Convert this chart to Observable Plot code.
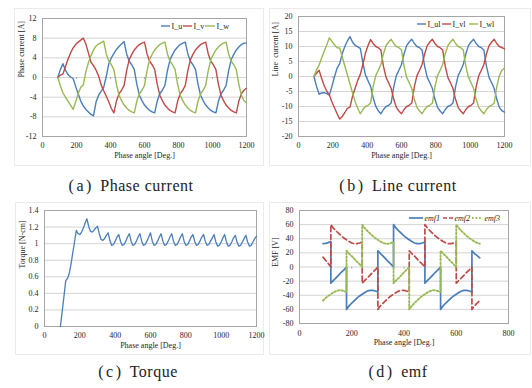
<!DOCTYPE html>
<html><head><meta charset="utf-8">
<script src="https://cdn.jsdelivr.net/npm/d3@7"></script>
<script src="https://cdn.jsdelivr.net/npm/@observablehq/plot@0.6"></script>
<style>
body{margin:0;background:#fff;}
#root{position:relative;width:532px;height:388px;overflow:hidden;font-family:"Liberation Serif","Times New Roman",serif;}
.panel{position:absolute;}
.box{position:absolute;border:1px solid #ebebeb;box-sizing:border-box;}
.cap{position:absolute;font-size:16px;color:#222;white-space:nowrap;transform:translate(-50%,-50%);letter-spacing:0.5px;}
.cap .p{letter-spacing:2.5px;margin-right:2px;}
#leg{position:absolute;left:0;top:0;pointer-events:none;}
</style></head><body><div id="root"></div>
<script>
// ---------- data ----------
const phaseAngle = [90,105,120,135,150,165,180,195,210,225,240,255,270,285,300,315,330,345,360,375,390,405,420,435,450,465,480,495,510,525,540,555,570,585,600,615,630,645,660,675,690,705,720,735,750,765,780,795,810,825,840,855,870,885,900,915,930,945,960,975,990,1005,1020,1035,1050,1065,1080,1095,1110,1125,1140,1155,1170,1185,1200];

const I_u = [0,1.6,2.8,1.5,0.6,0.1,-0.2,-1.8,-3.3,-4.8,-5.8,-6.5,-7.0,-7.5,-7.8,
  -5.0,-3.6,-2.8,-2.0,0.2,2.8,4.0,4.9,5.7,6.3,6.8,7.3,
  4.8,3.3,2.6,1.6,-1.4,-3.6,-4.7,-5.6,-6.2,-6.7,-7.0,-7.2,-4.8,-3.3,-2.6,-1.6,1.4,3.6,4.7,5.6,6.2,6.7,7.0,7.2,
  4.8,3.3,2.6,1.6,-1.4,-3.6,-4.7,-5.6,-6.2,-6.7,-7.0,-7.2,-4.8,-3.3,-2.6,-1.6,1.4,3.6,4.7,5.6,6.2,6.7,7.0,7.0];
const I_v = [0,0.5,0.7,2.2,3.7,5.0,6.0,6.7,7.2,7.6,8.0,6.8,5.0,3.1,2.4,
  1.5,0.3,-1.5,-2.7,-3.8,-5.0,-6.3,-7.2,
  -4.8,-3.3,-2.6,-1.6,1.4,3.6,4.7,5.6,6.2,6.7,7.0,7.2,
  4.8,3.3,2.6,1.6,-1.4,-3.6,-4.7,-5.6,-6.2,-6.7,-7.0,-7.2,-4.8,-3.3,-2.6,-1.6,1.4,3.6,4.7,5.6,6.2,6.7,7.0,7.2,
  4.8,3.3,2.6,1.6,-1.4,-3.6,-4.7,-5.6,-6.2,-6.7,-7.0,-7.2,-4.8,-3.3,-2.6,-2.2];
const I_w = [0,-1.7,-3.1,-4.0,-4.8,-5.6,-6.5,-5.0,-3.3,-2.0,-1.5,1.2,3.0,4.4,5.6,6.4,6.8,7.1,7.4,
  4.8,3.3,2.6,1.6,-1.4,-3.6,-4.7,-5.6,-6.2,-6.7,-7.0,-7.2,-4.8,-3.3,-2.6,-1.6,1.4,3.6,4.7,5.6,6.2,6.7,7.0,7.2,
  4.8,3.3,2.6,1.6,-1.4,-3.6,-4.7,-5.6,-6.2,-6.7,-7.0,-7.2,-4.8,-3.3,-2.6,-1.6,1.4,3.6,4.7,5.6,6.2,6.7,7.0,7.2,
  4.8,3.3,2.6,1.6,-1.4,-3.6,-4.7,-5.2];

const I_ul = [0,-3.3,-5.9,-5.5,-5.4,-5.7,-6.2,-3.2,0,2.8,4.3,7.7,10.0,11.9,13.3,
  11.4,10.4,9.9,9.4,4.6,0.5,-1.4,-3.3,-7.1,-9.9,-11.5,-12.4,
  -11.0,-10.0,-9.6,-8.8,-3.4,0.3,2.1,4.0,7.6,10.3,11.5,12.4,
  11.0,10.0,9.6,8.8,3.4,-0.3,-2.1,-4.0,-7.6,-10.3,-11.5,-12.4,
  -11.0,-10.0,-9.6,-8.8,-3.4,0.3,2.1,4.0,7.6,10.3,11.5,12.4,
  11.0,10.0,9.6,8.8,3.4,-0.3,-2.1,-4.0,-7.6,-10.3,-11.4,-11.9];
const I_vl = [0,1.1,2.1,-0.7,-3.1,-4.9,-6.2,-8.5,-10.5,-12.4,-14.2,-13.3,-12.0,-10.6,-10.2,
  -6.5,-3.9,-1.3,0.7,4.0,7.8,10.3,12.3,
  11.0,10.0,9.6,8.8,3.4,-0.3,-2.1,-4.0,-7.6,-10.3,-11.5,-12.4,
  -11.0,-10.0,-9.6,-8.8,-3.4,0.3,2.1,4.0,7.6,10.3,11.5,12.4,
  11.0,10.0,9.6,8.8,3.4,-0.3,-2.1,-4.0,-7.6,-10.3,-11.5,-12.4,
  -11.0,-10.0,-9.6,-8.8,-3.4,0.3,2.1,4.0,7.6,10.3,11.5,12.4,
  11.0,10.0,9.6,9.2];
const I_wl = [0,2.2,3.8,6.2,8.5,10.6,12.9,11.7,10.5,9.6,9.5,
  6.5,3.5,0.5,-2.5,-5.5,-8.3,-10.6,-12.4,
  -11.0,-10.0,-9.6,-8.8,-3.4,0.3,2.1,4.0,7.6,10.3,11.5,12.4,
  11.0,10.0,9.6,8.8,3.4,-0.3,-2.1,-4.0,-7.6,-10.3,-11.5,-12.4,
  -11.0,-10.0,-9.6,-8.8,-3.4,0.3,2.1,4.0,7.6,10.3,11.5,12.4,
  11.0,10.0,9.6,8.8,3.4,-0.3,-2.1,-4.0,-7.6,-10.3,-11.5,-12.4,
  -11.0,-10.0,-9.6,-8.8,-3.4,0.3,2.1,2.8];

const torqueAngle = [90,100,110,120,130,140,150,160,170,180,190,200,210,220,230,240,250,260,270,280,290,300,310,320,330,340,350,360,370,380,390,400,410,420,430,440,450,460,470,480,490,500,510,520,530,540,550,560,570,580,590,600,610,620,630,640,650,660,670,680,690,700,710,720,730,740,750,760,770,780,790,800,810,820,830,840,850,860,870,880,890,900,910,920,930,940,950,960,970,980,990,1000,1010,1020,1030,1040,1050,1060,1070,1080,1090,1100,1110,1120,1130,1140,1150,1160,1170,1180,1190,1200];
const torque = [0.00,0.18,0.36,0.55,0.58,0.64,0.75,0.89,1.02,1.16,
  1.12,1.11,1.14,1.19,1.25,1.30,1.21,1.15,1.14,1.16,
  1.19,1.21,1.12,1.05,1.04,1.06,1.10,1.13,1.04,0.98,
  0.99,1.03,1.08,1.11,
  1.03,0.98,0.99,1.03,1.08,1.12,
  1.03,0.98,0.99,1.03,1.08,1.12,
  1.03,0.98,0.99,1.03,1.08,1.13,
  1.03,0.98,0.99,1.03,1.08,1.12,
  1.03,0.98,0.99,1.03,1.08,1.12,
  1.03,0.98,0.99,1.03,1.08,1.12,
  1.03,0.98,0.99,1.03,1.08,1.11,
  1.03,0.98,0.99,1.03,1.08,1.11,
  1.03,0.98,0.99,1.03,1.07,1.11,
  1.02,0.97,0.98,1.02,1.07,1.11,
  1.02,0.97,0.98,1.02,1.07,1.10,
  1.02,0.97,0.98,1.02,1.06,1.10,
  1.02,0.97,0.98,1.02,1.06,1.09];

const emfAngle = [90,100,110,120, 120,130,140,150,160,170,180, 180,190,200,210,220,230,240, 240,250,260,270,280,290,300, 300,310,320,330,340,350,360, 360,370,380,390,400,410,420, 420,430,440,450,460,470,480, 480,490,500,510,520,530,540, 540,550,560,570,580,590,600, 600,610,620,630,640,650,660, 660,670,680,690];
const emf1 = [33,33.5,34.5,36, -23,-19,-15.5,-11.5,-7.5,-4,0, -60,-55,-51,-47.5,-44,-41,-38.5, -38.5,-36,-34,-33,-33,-34,-35.5, 23,19,15.5,11.5,7.5,4,0, 60,55,51,47.5,44,41,38.5, 38.5,36,34,33,33,34,35.5, -23,-19,-15.5,-11.5,-7.5,-4,0, -60,-55,-51,-47.5,-44,-41,-38.5, -38.5,-36,-34,-33,-33,-34,-35.5, 23,19,16,13];
const emf2 = [14,9.5,5,0, 60,55,51,47.5,44,41,38.5, 38.5,36,34,33,33,34,35.5, -23,-19,-15.5,-11.5,-7.5,-4,0, -60,-55,-51,-47.5,-44,-41,-38.5, -38.5,-36,-34,-33,-33,-34,-35.5, 23,19,15.5,11.5,7.5,4,0, 60,55,51,47.5,44,41,38.5, 38.5,36,34,33,33,34,35.5, -23,-19,-15.5,-11.5,-7.5,-4,0, -60,-55,-51,-47.5];
const emf3 = [-47.5,-44,-41,-38.5, -38.5,-36,-34,-33,-33,-34,-35.5, 23,19,15.5,11.5,7.5,4,0, 60,55,51,47.5,44,41,38.5, 38.5,36,34,33,33,34,35.5, -23,-19,-15.5,-11.5,-7.5,-4,0, -60,-55,-51,-47.5,-44,-41,-38.5, -38.5,-36,-34,-33,-33,-34,-35.5, 23,19,15.5,11.5,7.5,4,0, 60,55,51,47.5,44,41,38.5, 38.5,36,34,33];

const angleTicks1200 = [0,200,400,600,800,1000,1200];
const angleTicks800 = [0,200,400,600,800];
const phaseTicks = [-12,-8,-4,0,4,8,12];
const lineTicks = [-20,-15,-10,-5,0,5,10,15,20];
const torqueTicks = [0,0.2,0.4,0.6,0.8,1.0,1.2,1.4];
const emfTicks = [-80,-60,-40,-20,0,20,40,60,80];

// ---------- styling ----------
const BLUE = "#4A7EBB", RED = "#BE4B48", GREEN = "#98B954";
const GRID = "#d4d4d4", FRAME = "#a6a6a6", TXT = "#262626";
const zip = (xs, ys) => xs.map((x, i) => ({x, y: ys[i]}));

function chart(o) {
  const [mt, mr, mb, ml] = o.margins;
  const marks = [
    Plot.gridY(o.yTicks, {stroke: GRID, strokeOpacity: 1}),
    Plot.frame({stroke: FRAME}),
    Plot.axisY(o.yTicks, {tickSize: 0, tickPadding: 6, tickFormat: o.yFormat || (d => String(d)), label: null, fill: TXT}),
    Plot.axisX(o.xTicks, {tickSize: 0, tickPadding: o.xPad || 6, tickFormat: d => String(d), label: null, fill: TXT})
  ];
  if (o.zeroTick) {
    marks.push(Plot.ruleX(o.xTicks.slice(1, -1), {y1: 0, y2: -o.zeroTick, stroke: FRAME}));
  }
  for (const s of o.series) {
    marks.push(Plot.line(s.data, {x: "x", y: "y", stroke: s.color, strokeWidth: s.width || 1.4,
      strokeDasharray: s.dash, strokeLinejoin: "round"}));
  }
  marks.push(Plot.text([o.yTitle], {text: d => d, frameAnchor: "left", rotate: -90, dx: o.yTitleDx, fill: TXT, fontSize: 8}));
  marks.push(Plot.text([o.xTitle], {text: d => d, frameAnchor: "bottom", dy: o.xTitleDy, fill: TXT, fontSize: 8}));
  return Plot.plot({
    width: 266, height: 194,
    marginTop: mt, marginRight: mr, marginBottom: mb, marginLeft: ml,
    x: {domain: o.xDomain}, y: {domain: o.yDomain},
    style: {fontFamily: '"Liberation Serif","Times New Roman",serif', fontSize: "8px", color: TXT, background: "transparent", overflow: "visible"},
    marks
  });
}

const root = document.getElementById("root");
function place(node, left, top) {
  const d = document.createElement("div");
  d.className = "panel"; d.style.left = left + "px"; d.style.top = top + "px";
  d.appendChild(node); root.appendChild(d);
}
function box(l, t, w, h) {
  const d = document.createElement("div");
  d.className = "box"; Object.assign(d.style, {left: l + "px", top: t + "px", width: w + "px", height: h + "px"});
  root.appendChild(d);
}
box(14, 8, 250, 158); box(269, 8, 262, 158); box(15, 202, 249, 153); box(269, 202, 262, 153);

place(chart({
  margins: [18, 20, 58, 42], xDomain: [0, 1200], yDomain: [-12, 12],
  xTicks: angleTicks1200, yTicks: phaseTicks, zeroTick: 0.4,
  series: [
    {data: zip(phaseAngle, I_u), color: BLUE},
    {data: zip(phaseAngle, I_v), color: RED},
    {data: zip(phaseAngle, I_w), color: GREEN}
  ],
  yTitle: "Phase current [A]", yTitleDx: -21, xTitle: "Phase angle [Deg.]", xTitleDy: 21
}), 0, 0);

place(chart({
  margins: [16, 28, 58, 32], xDomain: [0, 1200], yDomain: [-20, 20],
  xTicks: angleTicks1200, yTicks: lineTicks, zeroTick: 0.7,
  series: [
    {data: zip(phaseAngle, I_ul), color: BLUE},
    {data: zip(phaseAngle, I_vl), color: RED},
    {data: zip(phaseAngle, I_wl), color: GREEN}
  ],
  yTitle: "Line  current [A]", yTitleDx: -23, xTitle: "Phase angle [Deg.]", xTitleDy: 21
}), 266, 0);

place(chart({
  margins: [16, 10, 62, 44], xDomain: [0, 1200], yDomain: [0, 1.4],
  xTicks: angleTicks1200, yTicks: torqueTicks, yFormat: d => String(+d.toFixed(1)),
  series: [{data: zip(torqueAngle, torque), color: BLUE, width: 1.3}],
  yTitle: "Torque [N-cm]", yTitleDx: -22, xTitle: "Phase angle [Deg.]", xTitleDy: 21
}), 0, 194);

place(chart({
  margins: [16, 24, 65, 33], xDomain: [0, 800], yDomain: [-80, 80],
  xTicks: angleTicks800, yTicks: emfTicks, zeroTick: 3, xPad: 7,
  series: [
    {data: zip(emfAngle, emf1), color: BLUE, width: 1.7},
    {data: zip(emfAngle, emf2), color: RED, width: 1.7, dash: "5,3"},
    {data: zip(emfAngle, emf3), color: GREEN, width: 1.9, dash: "1.6,2"}
  ],
  yTitle: "EMF [V]", yTitleDx: -24, xTitle: "Phase angle [Deg.]", xTitleDy: 21
}), 266, 194);

// ---------- legends ----------
const legends = [
  {y: 26, italic: false, items: [
    {x: 161, w: 9, label: "I_u", color: BLUE}, {x: 183, w: 9, label: "I_v", color: RED}, {x: 205, w: 10, label: "I_w", color: GREEN}]},
  {y: 24, italic: false, items: [
    {x: 417, w: 9, label: "I_ul", color: BLUE}, {x: 442, w: 9, label: "I_vl", color: RED}, {x: 469, w: 9, label: "I_wl", color: GREEN}]},
  {y: 218, italic: true, items: [
    {x: 409, w: 14, label: "emf1", color: BLUE, width: 1.7}, {x: 443, w: 10, label: "emf2", color: RED, dash: "4,2", width: 1.7},
    {x: 472, w: 11, label: "emf3", color: GREEN, dash: "1.6,2", width: 1.9}]}
];
const NS = "http://www.w3.org/2000/svg";
const leg = document.createElementNS(NS, "svg");
leg.setAttribute("id", "leg"); leg.setAttribute("width", 532); leg.setAttribute("height", 388);
for (const L of legends) {
  for (const it of L.items) {
    const ln = document.createElementNS(NS, "line");
    ln.setAttribute("x1", it.x); ln.setAttribute("x2", it.x + it.w);
    ln.setAttribute("y1", L.y); ln.setAttribute("y2", L.y);
    ln.setAttribute("stroke", it.color); ln.setAttribute("stroke-width", it.width || 1.4);
    if (it.dash) ln.setAttribute("stroke-dasharray", it.dash);
    leg.appendChild(ln);
    const t = document.createElementNS(NS, "text");
    t.setAttribute("x", it.x + it.w + 1.5); t.setAttribute("y", L.y);
    t.setAttribute("dominant-baseline", "central");
    t.setAttribute("font-family", '"Liberation Serif","Times New Roman",serif');
    t.setAttribute("font-size", 8); t.setAttribute("fill", TXT);
    if (L.italic) t.setAttribute("font-style", "italic");
    t.textContent = it.label;
    leg.appendChild(t);
  }
}
root.appendChild(leg);

// ---------- captions ----------
const captions = [
  {x: 131, y: 186, p: "(a)", t: "Phase current"},
  {x: 398, y: 186, p: "(b)", t: "Line current"},
  {x: 138, y: 372, p: "(c)", t: "Torque"},
  {x: 398, y: 372, p: "(d)", t: "emf"}
];
for (const c of captions) {
  const d = document.createElement("div");
  d.className = "cap"; d.style.left = c.x + "px"; d.style.top = c.y + "px";
  const s = document.createElement("span"); s.className = "p"; s.textContent = c.p;
  d.appendChild(s); d.appendChild(document.createTextNode(" " + c.t));
  root.appendChild(d);
}
</script></body></html>
